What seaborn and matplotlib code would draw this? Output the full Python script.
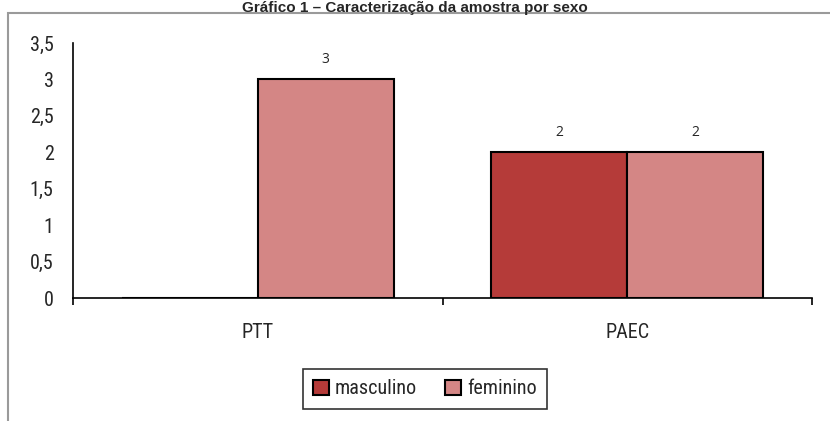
import matplotlib
matplotlib.use("Agg")
import matplotlib.pyplot as plt
import seaborn as sns
import pandas as pd
from matplotlib.patches import Rectangle
from matplotlib import font_manager

categories = ["PTT", "PAEC"]
series = ["masculino", "feminino"]
masculino = [0, 2]
feminino = [3, 2]
yticks = [0, 0.5, 1, 1.5, 2, 2.5, 3, 3.5]
ytick_labels = ["0", "0,5", "1", "1,5", "2", "2,5", "3", "3,5"]
title = "Gráfico 1 – Caracterização da amostra por sexo"

df = pd.DataFrame({
    "categoria": categories * 2,
    "sexo": [series[0]] * 2 + [series[1]] * 2,
    "valor": masculino + feminino,
})

sns.set_theme(style="white")
plt.rcParams["font.family"] = ["Liberation Sans", "DejaVu Sans"]

FS = 14.5
narrow_fp = font_manager.FontProperties(family="DejaVu Sans", stretch="condensed", size=FS)
names = {f.name for f in font_manager.fontManager.ttflist}
for cand in ["Liberation Sans Narrow", "Roboto Condensed", "Open Sans Condensed", "Noto Sans Condensed"]:
    if cand in names:
        narrow_fp = font_manager.FontProperties(family=cand, size=FS)
        break

fig = plt.figure(figsize=(8.3, 4.21), dpi=100)
ax = fig.add_axes([73/830, 1-298/421, (812-73)/830, (298-43)/421])

palette = {"masculino": "#B53B39", "feminino": "#D48685"}
sns.barplot(data=df, x="categoria", y="valor", hue="sexo", order=categories,
            hue_order=series, palette=palette, width=0.736, saturation=1,
            edgecolor="black", linewidth=1.5, ax=ax, legend=True)

for cont in ax.containers:
    for bar in cont:
        h = bar.get_height()
        if h > 0:
            ax.annotate(f"{h:g}", (bar.get_x() + bar.get_width()/2, h),
                        xytext=(0, 9), textcoords="offset points",
                        ha="center", va="bottom", fontsize=10,
                        family=["Open Sans", "DejaVu Sans"])

ax.set_xlim(-0.5, 1.5)
ax.set_ylim(0, 3.5)
ax.set_yticks(yticks)
ax.set_yticklabels(ytick_labels, fontproperties=narrow_fp)
ax.set_xticklabels(categories, fontproperties=narrow_fp)
ax.set_xlabel("")
ax.set_ylabel("")
ax.tick_params(axis="y", length=0, pad=14)
ax.tick_params(axis="x", which="major", length=0, pad=18)
ax.set_xticks([-0.5, 0.5, 1.5], minor=True)
ax.tick_params(axis="x", which="minor", length=5, width=1.2, color="black", direction="out", bottom=True)
for s in ["top", "right"]:
    ax.spines[s].set_visible(False)
for s in ["left", "bottom"]:
    ax.spines[s].set_color("black")
    ax.spines[s].set_linewidth(1.2)

handles, labels = ax.get_legend_handles_labels()
leg = ax.legend(handles, labels, loc="center", bbox_to_anchor=(425/830, 1-389/421),
                bbox_transform=fig.transFigure, ncol=2, frameon=True,
                prop=narrow_fp, handlelength=0.8, handleheight=0.8,
                handletextpad=0.3, columnspacing=1.4, borderpad=0.5, fancybox=False)
leg.get_frame().set_edgecolor("black")
leg.get_frame().set_linewidth(1.2)

fig.patches.append(Rectangle((8/830, -0.1), 1.2, (1-13/421) + 0.1, transform=fig.transFigure,
                             fill=False, edgecolor="#9a9a9a", linewidth=1.5, zorder=0))

fig.text(415/830, 1-1/421, title, ha="center", va="top", fontsize=11,
         fontweight="bold", family=["Liberation Sans", "DejaVu Sans"])

fig.savefig("out.png", dpi=100)
